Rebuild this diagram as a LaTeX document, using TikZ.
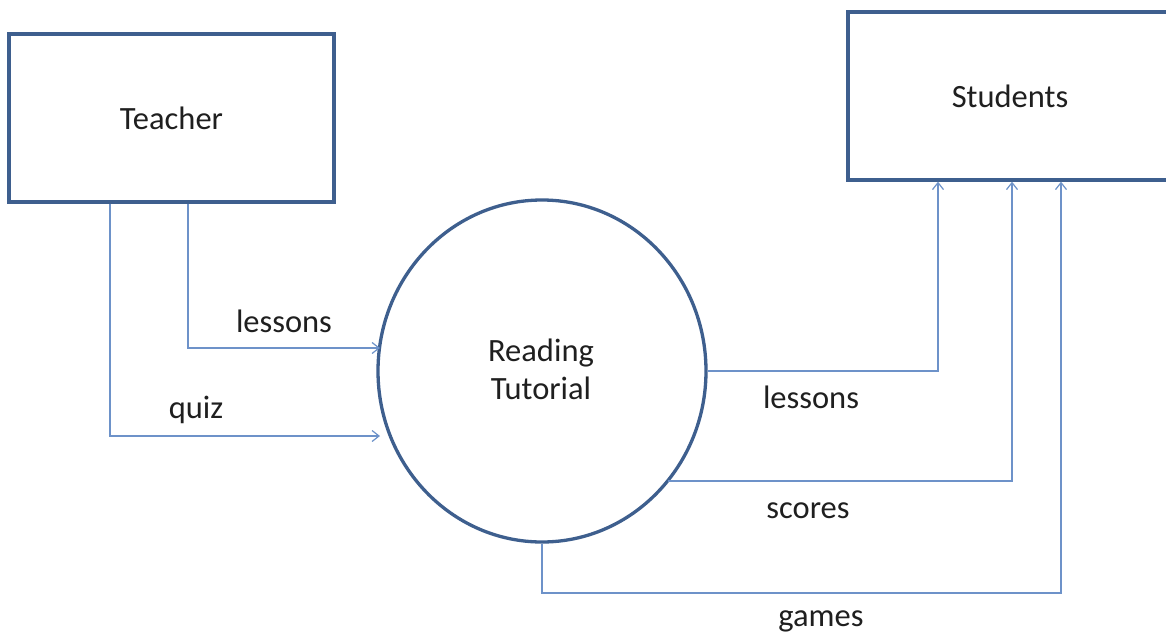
\documentclass[tikz,border=0pt]{standalone}
\usepackage{fontspec}
\setmainfont{Carlito}
\usetikzlibrary{shapes.geometric,arrows.meta}
\definecolor{boxblue}{HTML}{3E5F8E}
\definecolor{lineblue}{HTML}{6D92C9}
\tikzset{
  entity/.style={draw=boxblue, line width=3.3pt, rectangle, inner sep=0pt},
  proc/.style={draw=boxblue, line width=3.3pt, ellipse, inner sep=0pt, align=center},
  flow/.style={draw=lineblue, line width=1.4pt, -{Straight Barb[length=7pt,width=11pt,line width=1.2pt]}},
  lbl/.style={inner sep=0pt, font=\fontsize{32.5}{38}\selectfont},
}
\begin{document}
\begin{tikzpicture}[x=1pt,y=-1pt, every node/.style={font=\fontsize{32.5}{38}\selectfont, text=black!88}]
\useasboundingbox (0,0) rectangle (1166,634);
\fill[white] (0,0) rectangle (1166,634);
\node[entity, minimum width=325pt, minimum height=168pt] (Teacher) at (171.5,118) {Teacher};
\node[entity, minimum width=324pt, minimum height=168pt] (Students) at (1010,96) {Students};
\node[proc, minimum width=328pt, minimum height=342pt] (RT) at (542,371) {};
\node[lbl, align=center] (RTtext) at (541,369) {Reading\\[0pt]Tutorial};
% teacher -> reading tutorial
\coordinate (aL) at (380,348);
\coordinate (aQ) at (380,436);
\draw[flow] (Teacher.south -| 188,0) |- (aL);
\draw[flow] (Teacher.south -| 110,0) |- (aQ);
% reading tutorial -> students
\coordinate (sc) at (668,481);
\draw[flow] (RT.east) -| (Students.south -| 938,0);
\draw[flow] (sc) -| (Students.south -| 1012,0);
\draw[flow] (RT.south) |- (780,593) -| (Students.south -| 1061,0);
% labels
\node[lbl] (l1) at (284,321) {lessons};
\node[lbl] (l2) at (196,410) {quiz};
\node[lbl] (l3) at (811,397) {lessons};
\node[lbl] (l4) at (808,511) {scores};
\node[lbl] (l5) at (821,621) {games};
\end{tikzpicture}
\end{document}
